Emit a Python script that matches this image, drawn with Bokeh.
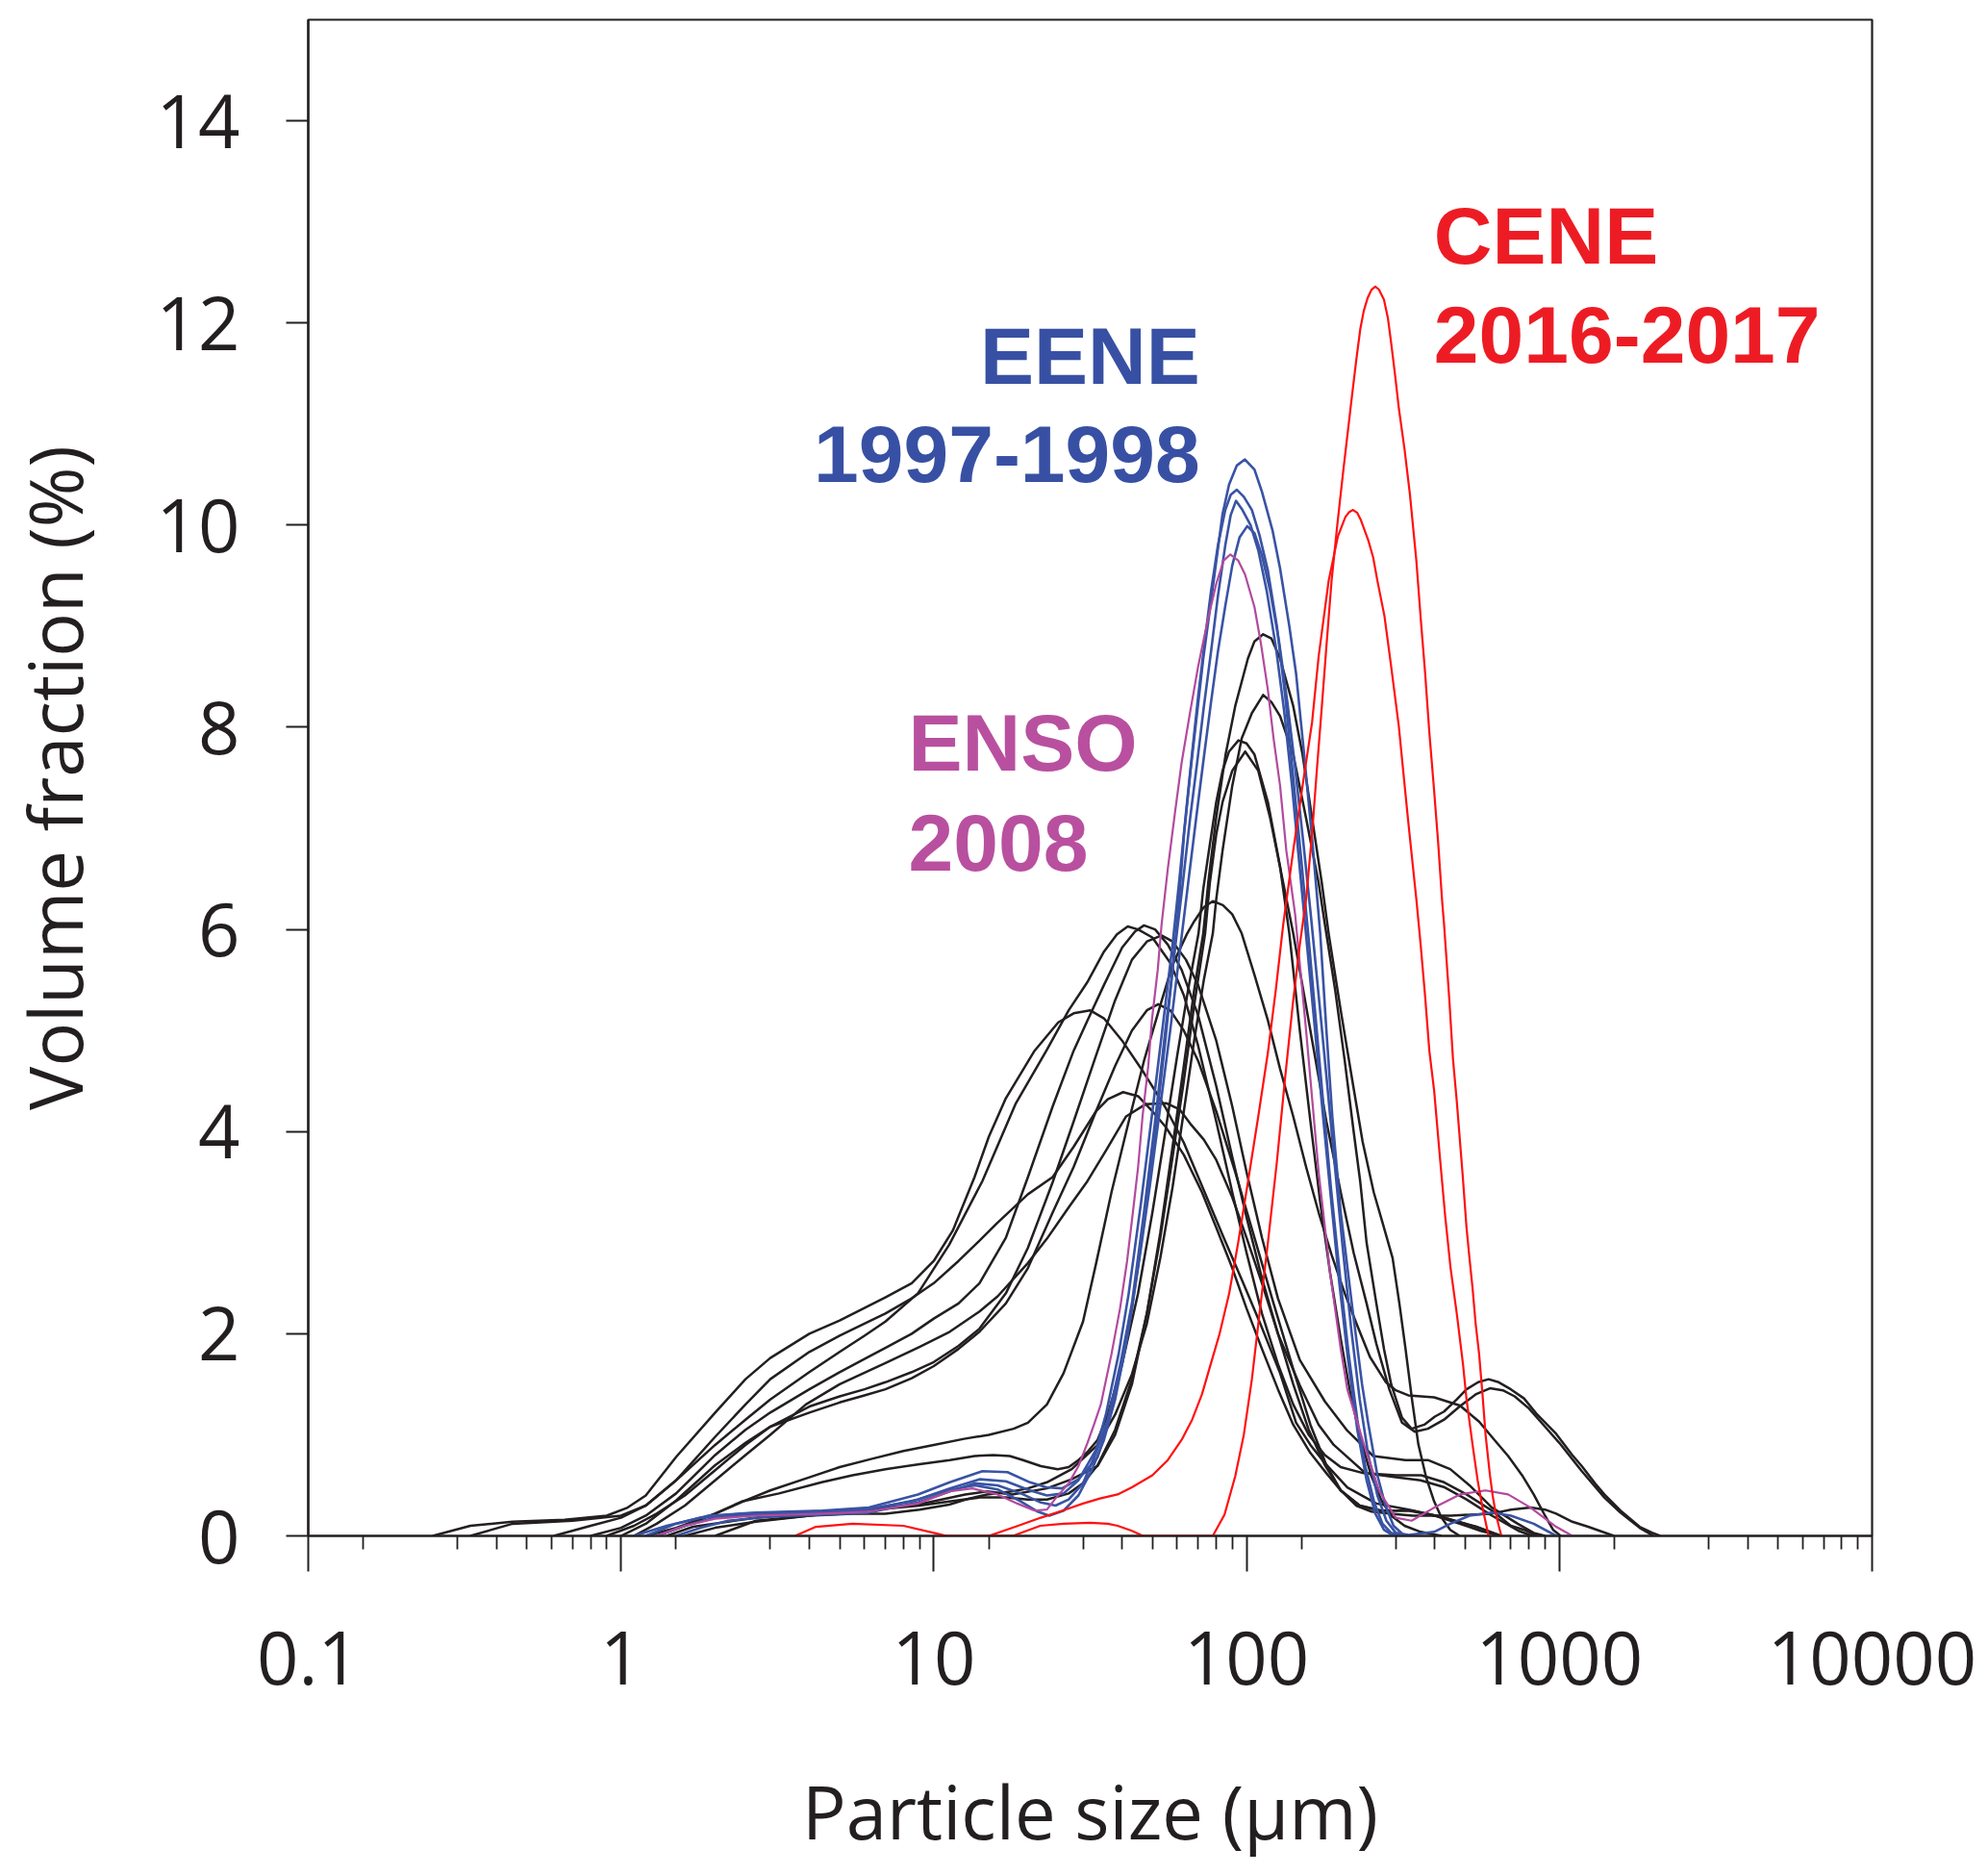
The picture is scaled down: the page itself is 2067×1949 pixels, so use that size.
from bokeh.plotting import figure
from bokeh.models import FixedTicker, CustomJSTickFormatter, Range1d, Label
from bokeh.embed import file_html
from bokeh.resources import INLINE

# ---------------- axes / ticks ----------------
x_major_ticks = [0.1, 1, 10, 100, 1000, 10000]
x_minor_ticks = [0.15, 0.3, 0.4, 0.5, 0.6, 0.7, 0.8, 0.9,
                 1.5, 3, 4, 5, 6, 7, 8, 9,
                 15, 30, 40, 50, 60, 70, 80, 90,
                 150, 300, 400, 500, 600, 700, 800, 900,
                 1500, 3000, 4000, 5000, 6000, 7000, 8000, 9000]
y_major_ticks = [0, 2, 4, 6, 8, 10, 12, 14]

# ---------------- black curves (size in um, volume fraction in %) ----------------
k01_size = [1.6, 2.0, 2.7, 4.0, 5.5, 7.0, 9.0, 11.2, 14, 17, 20, 23, 27, 30, 33.4, 38, 43, 48, 53, 58, 63, 68, 72.7, 75.4, 79.9, 85.7, 92, 101, 106, 113, 120, 128, 141, 151, 162, 174, 183, 200, 218, 235, 255, 275, 293, 308, 322, 338, 354, 375, 398, 420, 448, 480]
k01_vol = [0, 0.08, 0.14, 0.20, 0.25, 0.27, 0.30, 0.34, 0.38, 0.38, 0.36, 0.36, 0.42, 0.52, 0.70, 1.05, 1.55, 2.20, 3.00, 3.85, 4.65, 5.40, 5.96, 6.46, 7.10, 7.73, 8.21, 8.68, 8.85, 8.92, 8.88, 8.68, 8.21, 7.73, 7.10, 6.46, 5.96, 5.20, 4.50, 3.90, 3.40, 3.05, 2.75, 2.30, 1.86, 1.35, 0.91, 0.58, 0.34, 0.18, 0.06, 0]

k02_size = [2.0, 2.7, 4.0, 5.5, 7.0, 9.0, 11.2, 13, 14.8, 17.8, 20, 23, 27.6, 33.4, 38, 43, 48, 53, 58, 63, 68, 73, 78, 80, 83.8, 90, 96.5, 104, 113, 120, 128, 141, 155, 170, 178, 192, 206, 220, 231, 242, 260, 275, 290, 314, 337, 370, 400, 428, 470, 505, 550, 594, 640, 700, 771, 850, 977, 1100, 1180, 1300, 1393, 1568, 1806, 1985, 2100]
k02_vol = [0, 0.15, 0.20, 0.22, 0.22, 0.26, 0.31, 0.37, 0.41, 0.44, 0.47, 0.53, 0.66, 0.90, 1.20, 1.60, 2.10, 2.75, 3.45, 4.20, 4.90, 5.50, 5.96, 6.30, 6.78, 7.42, 7.89, 8.14, 8.32, 8.25, 8.11, 7.73, 7.10, 6.46, 6.05, 5.40, 4.70, 4.00, 3.50, 2.90, 2.30, 1.85, 1.50, 1.17, 1.06, 1.10, 1.18, 1.23, 1.35, 1.45, 1.52, 1.55, 1.52, 1.45, 1.36, 1.20, 1.01, 0.80, 0.69, 0.52, 0.41, 0.25, 0.09, 0.03, 0]

k03_size = [1.2, 1.5, 2.0, 2.43, 3.2, 4.38, 5.5, 7.0, 9.0, 11.25, 13.5, 15.5, 17.5, 19.3, 22, 24.9, 27, 29, 31, 33.4, 36, 40, 45, 50, 55, 60, 65, 70.2, 72.7, 76.3, 80, 83.8, 87.9, 94.2, 100, 106, 117, 128, 137, 148, 160, 172, 185, 200, 215, 232, 250, 270, 290, 320, 360, 420]
k03_vol = [0, 0.08, 0.22, 0.34, 0.42, 0.53, 0.60, 0.66, 0.71, 0.75, 0.79, 0.80, 0.79, 0.75, 0.69, 0.66, 0.68, 0.75, 0.83, 0.95, 1.20, 1.70, 2.40, 3.20, 4.00, 4.75, 5.40, 5.96, 6.40, 6.84, 7.26, 7.57, 7.76, 7.87, 7.84, 7.73, 7.26, 6.62, 5.96, 5.00, 4.10, 3.30, 2.60, 1.95, 1.40, 0.95, 0.60, 0.35, 0.20, 0.10, 0.04, 0]

k04_size = [1.4, 1.7, 2.7, 5.5, 8.9, 12.6, 14.8, 17.8, 23, 27.6, 33.4, 38, 43, 48, 53, 58, 63, 68, 73.7, 76.3, 80, 83.8, 90, 99, 109, 119, 131, 141, 160, 180, 200, 220, 242, 260, 286, 314, 345, 380, 428, 480, 540, 600, 660, 720, 800, 900, 1000, 1180, 1393, 1568, 1806, 2000]
k04_vol = [0, 0.09, 0.18, 0.25, 0.31, 0.41, 0.44, 0.41, 0.47, 0.56, 0.69, 1.00, 1.50, 2.20, 2.95, 3.75, 4.50, 5.25, 5.96, 6.46, 6.94, 7.26, 7.57, 7.76, 7.57, 7.10, 6.46, 5.96, 5.00, 4.10, 3.40, 2.80, 2.30, 1.90, 1.45, 1.12, 1.03, 1.06, 1.15, 1.28, 1.40, 1.46, 1.44, 1.38, 1.26, 1.08, 0.92, 0.64, 0.38, 0.23, 0.08, 0]

k05_size = [1.3, 1.6, 2.0, 2.5, 3.0, 4.0, 5.0, 6.3, 8.0, 10, 12.5, 15, 18, 20, 23, 26, 30, 33, 37, 42, 47, 53, 58, 64.6, 68, 73, 78, 84, 90, 96.5, 106, 117, 128, 141, 155, 170, 187, 206, 226, 248, 279, 300, 329, 398, 481, 554, 620, 686, 760, 828, 900, 955, 1010]
k05_vol = [0, 0.10, 0.22, 0.35, 0.45, 0.58, 0.68, 0.76, 0.84, 0.90, 0.96, 1.00, 1.06, 1.12, 1.30, 1.61, 2.12, 2.69, 3.40, 4.10, 4.70, 5.25, 5.65, 5.96, 6.08, 6.22, 6.28, 6.24, 6.15, 5.96, 5.55, 5.10, 4.62, 4.15, 3.65, 3.20, 2.78, 2.40, 2.08, 1.77, 1.52, 1.44, 1.39, 1.37, 1.29, 1.13, 0.95, 0.79, 0.60, 0.41, 0.20, 0.06, 0]

k06_size = [0.61, 0.8, 1.0, 1.2, 1.5, 2.0, 2.5, 3.0, 4.0, 5.0, 6.0, 7.0, 8.9, 11.2, 14.3, 18.3, 23, 27, 31, 35, 38.5, 41.7, 45, 50, 57, 63, 70, 80, 90, 100, 112, 126, 141, 158, 178, 200, 237, 300, 362, 428, 505, 609, 700, 771, 850]
k06_vol = [0, 0.10, 0.18, 0.30, 0.55, 0.90, 1.15, 1.35, 1.62, 1.82, 1.98, 2.12, 2.40, 2.88, 3.51, 4.28, 4.81, 5.20, 5.48, 5.78, 5.95, 6.03, 6.00, 5.92, 5.67, 5.35, 4.85, 4.10, 3.40, 2.80, 2.20, 1.70, 1.30, 1.00, 0.80, 0.68, 0.62, 0.60, 0.60, 0.53, 0.41, 0.25, 0.10, 0.06, 0]

k07_size = [0.8, 1.0, 1.2, 1.5, 2.0, 2.5, 3.0, 4.0, 5.0, 6.0, 7.0, 8.5, 10, 12, 14, 17, 20, 24, 28, 31, 35, 40, 44, 47, 51, 56, 62, 70, 80, 90, 100, 112, 126, 148, 170, 190, 240, 300, 360, 430, 505, 609, 740, 820]
k07_vol = [0, 0.08, 0.20, 0.42, 0.80, 1.05, 1.22, 1.45, 1.62, 1.75, 1.86, 2.00, 2.15, 2.30, 2.50, 2.95, 3.55, 4.25, 4.80, 5.10, 5.45, 5.82, 5.98, 6.04, 6.00, 5.85, 5.60, 5.15, 4.45, 3.75, 3.15, 2.55, 2.00, 1.49, 1.10, 0.90, 0.62, 0.58, 0.55, 0.48, 0.36, 0.20, 0.05, 0]

k08_size = [0.9, 1.1, 1.3, 1.6, 2.0, 2.5, 3.0, 4.0, 5.0, 6.0, 7.0, 8.5, 10, 12, 14, 17, 20, 24, 28, 33, 38, 43, 48, 53.5, 58, 64, 70, 80, 90, 100, 112, 126, 148, 178, 210, 254, 322, 380, 448, 516, 609, 736, 828, 900]
k08_vol = [0, 0.10, 0.22, 0.40, 0.65, 0.90, 1.08, 1.28, 1.38, 1.45, 1.52, 1.62, 1.72, 1.88, 2.05, 2.40, 2.85, 3.50, 4.10, 4.75, 5.30, 5.70, 5.88, 5.94, 5.88, 5.70, 5.45, 4.90, 4.25, 3.60, 2.95, 2.35, 1.74, 1.33, 1.04, 0.79, 0.75, 0.75, 0.66, 0.50, 0.28, 0.12, 0.03, 0]

k09_size = [0.25, 0.33, 0.45, 0.66, 0.9, 1.05, 1.2, 1.5, 2.0, 2.5, 3.0, 4.0, 5.0, 7.0, 8.5, 10, 11.5, 13.5, 15, 17, 21, 25, 28, 31.6, 35, 40, 47, 55, 63, 73, 84, 97, 111, 128, 144, 160, 178, 210, 260, 330, 430, 540, 650]
k09_vol = [0, 0.10, 0.14, 0.16, 0.20, 0.28, 0.40, 0.78, 1.22, 1.55, 1.76, 2.00, 2.13, 2.36, 2.50, 2.72, 3.02, 3.55, 3.95, 4.33, 4.80, 5.08, 5.17, 5.20, 5.12, 4.90, 4.58, 4.24, 3.89, 3.42, 2.97, 2.52, 2.09, 1.61, 1.12, 0.90, 0.72, 0.48, 0.32, 0.26, 0.18, 0.09, 0]

k10_size = [1.0, 1.2, 1.5, 2.0, 2.5, 3.0, 4.0, 5.0, 6.0, 7.0, 8.5, 10, 12, 14, 17, 20, 24, 28, 33, 38, 43, 48, 52.2, 57, 63, 70, 80, 92, 106, 122, 141, 160, 180, 200, 230, 270, 330, 400, 480, 560, 650]
k10_vol = [0, 0.12, 0.35, 0.70, 0.92, 1.08, 1.22, 1.32, 1.39, 1.45, 1.56, 1.68, 1.85, 2.02, 2.30, 2.65, 3.20, 3.65, 4.20, 4.65, 5.00, 5.20, 5.26, 5.20, 5.00, 4.70, 4.20, 3.60, 2.95, 2.30, 1.65, 1.10, 0.70, 0.45, 0.30, 0.25, 0.25, 0.20, 0.12, 0.05, 0]

k11_size = [0.33, 0.45, 0.7, 1.0, 1.2, 1.5, 2.0, 2.5, 3.0, 4.0, 5.0, 6.0, 7.0, 8.5, 10, 12, 14, 16, 20, 24, 28, 33, 36, 40.3, 45, 50, 55, 63, 72, 80, 90, 100, 112, 126, 141, 160, 180, 200, 230, 266, 337, 428, 543, 650]
k11_vol = [0, 0.12, 0.15, 0.20, 0.30, 0.55, 0.98, 1.30, 1.55, 1.82, 1.98, 2.10, 2.20, 2.35, 2.50, 2.72, 2.92, 3.10, 3.38, 3.55, 3.85, 4.20, 4.32, 4.39, 4.35, 4.20, 4.05, 3.77, 3.40, 3.05, 2.65, 2.25, 1.85, 1.45, 1.10, 0.82, 0.62, 0.45, 0.30, 0.25, 0.25, 0.18, 0.09, 0]

k12_size = [1.1, 1.3, 1.6, 2.0, 2.5, 3.0, 3.9, 5.0, 7.0, 9.0, 11.25, 14, 16, 20, 23, 27, 31, 35.8, 41.2, 47.5, 55.5, 61, 66, 73, 80, 90, 100, 112, 126, 141, 158, 178, 200, 224, 251, 290, 340, 400, 450, 520, 609, 700, 809, 900, 977, 1100, 1236, 1494]
k12_vol = [0, 0.12, 0.30, 0.55, 0.80, 1.00, 1.30, 1.50, 1.71, 1.87, 2.02, 2.22, 2.37, 2.70, 2.94, 3.25, 3.51, 3.83, 4.15, 4.27, 4.28, 4.22, 4.08, 3.92, 3.72, 3.35, 2.95, 2.50, 2.00, 1.50, 1.05, 0.70, 0.45, 0.30, 0.24, 0.22, 0.20, 0.20, 0.20, 0.21, 0.22, 0.26, 0.28, 0.26, 0.22, 0.14, 0.09, 0]

# ---------------- EENE 1997-1998 (blue) ----------------
b01_size = [1.2, 1.5, 1.9, 2.7, 4.4, 6.2, 8.9, 11.25, 14.3, 17.2, 20.3, 22.9, 25.7, 29, 33.4, 36, 40, 43, 47, 51, 55, 58, 60.9, 63.1, 66.2, 69.3, 72.7, 76.3, 80, 83.8, 87.9, 93.1, 98.8, 106, 112, 121, 128, 137, 144, 152, 162, 172, 180, 188, 200, 218, 234, 245, 262, 278, 295, 320]
b01_vol = [0, 0.12, 0.20, 0.23, 0.25, 0.28, 0.41, 0.53, 0.64, 0.63, 0.53, 0.48, 0.47, 0.56, 0.78, 1.11, 1.70, 2.25, 3.10, 4.00, 4.90, 5.60, 6.31, 6.94, 7.57, 8.11, 8.68, 9.16, 9.64, 10.11, 10.40, 10.59, 10.65, 10.55, 10.33, 9.95, 9.57, 9.00, 8.53, 7.80, 6.90, 5.96, 5.00, 4.15, 3.20, 2.25, 1.50, 1.11, 0.60, 0.30, 0.10, 0]

b02_size = [1.3, 1.6, 2.0, 2.7, 4.4, 6.2, 8.9, 11.25, 14, 17, 20.3, 23, 26, 29, 33, 35.5, 39, 42, 46, 50, 54, 58, 61, 64, 67, 70, 73.5, 77, 81, 85.5, 89, 93.1, 98, 104, 110, 117, 125, 133, 141, 150, 158, 166, 175, 186, 200, 212, 226, 240, 256, 272, 290, 310]
b02_vol = [0, 0.10, 0.18, 0.21, 0.23, 0.26, 0.36, 0.47, 0.56, 0.54, 0.45, 0.40, 0.42, 0.55, 0.85, 1.20, 1.80, 2.40, 3.30, 4.20, 5.05, 5.85, 6.50, 7.15, 7.75, 8.30, 8.85, 9.35, 9.80, 10.15, 10.30, 10.35, 10.28, 10.15, 9.90, 9.55, 9.00, 8.30, 7.50, 6.65, 5.90, 5.15, 4.35, 3.45, 2.50, 1.80, 1.15, 0.68, 0.33, 0.12, 0.03, 0]

b03_size = [1.5, 1.8, 2.2, 3.0, 4.4, 6.2, 8.9, 11.25, 13.5, 16, 19, 22, 24.5, 27, 30, 33, 36, 39.5, 43, 47, 51, 55, 59, 62.5, 66, 69.5, 73, 77, 81, 85.5, 89, 92.5, 97, 103, 109, 116, 124, 132, 140, 148, 156, 165, 175, 186, 198, 211, 226, 242, 258, 275, 295]
b03_vol = [0, 0.08, 0.15, 0.19, 0.21, 0.23, 0.33, 0.44, 0.52, 0.50, 0.42, 0.33, 0.30, 0.36, 0.52, 0.82, 1.15, 1.70, 2.30, 3.20, 4.10, 5.00, 5.80, 6.45, 7.10, 7.65, 8.20, 8.75, 9.30, 9.80, 10.10, 10.24, 10.15, 10.00, 9.75, 9.35, 8.80, 8.15, 7.40, 6.60, 5.85, 5.05, 4.20, 3.35, 2.50, 1.75, 1.05, 0.55, 0.22, 0.06, 0]

b04_size = [1.1, 1.4, 1.8, 2.5, 4.0, 6.0, 8.5, 11, 13.5, 16, 19, 21.5, 23.4, 26, 29, 32, 35, 38, 41.5, 45, 49, 53, 57, 61, 65, 69, 73, 77, 81, 85.5, 90, 95, 100.5, 106, 112, 119, 127, 135, 143, 152, 161, 170, 180, 191, 203, 216, 230, 245, 262, 280, 300, 330, 398, 448, 516, 609, 700, 828, 977]
b04_vol = [0, 0.10, 0.18, 0.22, 0.24, 0.26, 0.34, 0.45, 0.50, 0.46, 0.34, 0.24, 0.20, 0.25, 0.40, 0.65, 0.95, 1.35, 1.95, 2.65, 3.45, 4.25, 5.00, 5.75, 6.45, 7.10, 7.70, 8.25, 8.75, 9.20, 9.60, 9.88, 9.99, 9.92, 9.70, 9.35, 8.85, 8.25, 7.60, 6.85, 6.10, 5.35, 4.55, 3.70, 2.85, 2.05, 1.35, 0.80, 0.40, 0.15, 0.03, 0.01, 0.04, 0.12, 0.20, 0.23, 0.20, 0.12, 0]

# ---------------- ENSO 2008 (magenta) ----------------
m01_size = [1.3, 1.6, 2.0, 2.7, 4.4, 6.2, 8.9, 11.25, 13.3, 16, 18.5, 21, 23, 24.5, 27, 29, 31, 32.6, 34.2, 37, 39.4, 41.5, 43.3, 45, 46.5, 48.5, 49.8, 52, 53.5, 56, 59, 62, 66, 70, 75, 80, 84.5, 88.8, 94, 98.9, 106, 111, 117, 122, 128, 134, 143, 155, 170, 185, 200, 210, 237, 266, 300, 337, 398, 481, 581, 686, 809, 977, 1100]
m01_vol = [0, 0.10, 0.17, 0.20, 0.22, 0.24, 0.32, 0.44, 0.47, 0.41, 0.32, 0.25, 0.26, 0.37, 0.52, 0.69, 0.92, 1.11, 1.30, 1.80, 2.25, 2.72, 3.20, 3.65, 4.15, 4.65, 5.10, 5.60, 6.05, 6.60, 7.15, 7.65, 8.15, 8.60, 9.05, 9.42, 9.65, 9.71, 9.65, 9.51, 9.19, 8.84, 8.37, 7.89, 7.42, 6.78, 6.15, 5.00, 3.60, 2.60, 1.85, 1.45, 0.91, 0.44, 0.18, 0.15, 0.28, 0.41, 0.45, 0.41, 0.28, 0.09, 0]

# ---------------- CENE 2016-2017 (red) ----------------
r01_size = [3.6, 4.2, 5.5, 8.0, 10, 11, 17.9, 21.9, 26, 31.6, 36, 38.7, 43, 46.6, 78, 85, 92, 98, 104, 110, 117, 125, 133, 141, 148, 155, 162, 168, 174, 180, 187, 195, 204, 216, 224, 231, 237, 244, 251, 258, 265, 275, 283, 290, 298, 307, 320, 333, 349, 361, 372, 384, 396, 410, 422, 428, 445, 457, 470, 490, 505, 516, 528, 540, 554, 568, 581, 600, 612, 624, 640, 653]
r01_vol = [0, 0.09, 0.12, 0.10, 0.03, 0, 0, 0.10, 0.12, 0.13, 0.12, 0.10, 0.05, 0, 0, 0.21, 0.59, 1.00, 1.55, 2.20, 2.90, 3.70, 4.55, 5.30, 5.85, 6.30, 6.95, 7.60, 8.20, 8.80, 9.45, 10.00, 10.55, 11.21, 11.62, 11.94, 12.12, 12.25, 12.33, 12.36, 12.33, 12.23, 12.05, 11.80, 11.50, 11.15, 10.75, 10.30, 9.65, 9.05, 8.55, 7.95, 7.45, 6.85, 6.28, 6.05, 5.30, 4.72, 4.30, 3.60, 3.05, 2.75, 2.45, 2.10, 1.80, 1.40, 1.00, 0.60, 0.40, 0.25, 0.10, 0]

r02_size = [15, 18.6, 22, 25.8, 30, 34, 38.7, 43, 50, 56, 62, 67, 72, 76, 82, 88, 94, 101, 109, 117, 124, 131, 141, 151, 162, 170, 183, 196, 207, 213, 219, 226, 232, 245, 254, 262, 276, 290, 307, 317, 328, 338, 349, 360, 372, 384, 398, 415, 432, 449, 470, 492, 505, 528, 548, 568, 594]
r02_vol = [0, 0.10, 0.18, 0.25, 0.32, 0.37, 0.41, 0.48, 0.60, 0.75, 0.95, 1.15, 1.40, 1.65, 2.00, 2.40, 2.90, 3.50, 4.15, 4.78, 5.40, 6.05, 6.78, 7.42, 8.05, 8.70, 9.45, 9.89, 10.08, 10.13, 10.15, 10.12, 10.05, 9.85, 9.68, 9.45, 9.10, 8.60, 8.00, 7.56, 7.10, 6.71, 6.30, 5.86, 5.35, 4.80, 4.40, 3.75, 3.15, 2.65, 2.20, 1.70, 1.35, 0.90, 0.55, 0.28, 0]

BLACK = "#231f20"
BLUE = "#3953a4"
MAGENTA = "#b24a9e"
RED = "#ff1010"

black_curves = [(k01_size, k01_vol), (k02_size, k02_vol), (k03_size, k03_vol), (k04_size, k04_vol),
                (k05_size, k05_vol), (k06_size, k06_vol), (k07_size, k07_vol), (k08_size, k08_vol),
                (k09_size, k09_vol), (k10_size, k10_vol), (k11_size, k11_vol), (k12_size, k12_vol)]
blue_curves = [(b01_size, b01_vol), (b02_size, b02_vol), (b03_size, b03_vol), (b04_size, b04_vol)]
magenta_curves = [(m01_size, m01_vol)]
red_curves = [(r01_size, r01_vol), (r02_size, r02_vol)]

p = figure(width=2059, height=1943, x_axis_type="log",
           x_range=Range1d(0.1, 10000), y_range=Range1d(0, 15),
           output_backend="svg", toolbar_location=None,
           min_border_left=320, min_border_right=113, min_border_top=20, min_border_bottom=347,
           x_axis_label="Particle size (µm)", y_axis_label="Volume fraction (%)")

p.xgrid.visible = False
p.ygrid.visible = False
p.background_fill_color = "white"
p.border_fill_color = "white"
p.outline_line_color = BLACK
p.outline_line_width = 2.2

for ax in (p.xaxis[0], p.yaxis[0]):
    ax.axis_line_color = BLACK
    ax.axis_line_width = 2.2
    ax.major_tick_line_color = BLACK
    ax.major_tick_line_width = 2
    ax.major_tick_in = 0
    ax.major_label_text_font = "Open Sans"
    ax.major_label_text_font_size = "76px"
    ax.major_label_text_color = BLACK
    ax.axis_label_text_font = "Open Sans"
    ax.axis_label_text_font_size = "76px"
    ax.axis_label_text_font_style = "normal"
    ax.axis_label_text_color = BLACK

xa = p.xaxis[0]
xa.ticker = FixedTicker(ticks=x_major_ticks, minor_ticks=x_minor_ticks)
xa.formatter = CustomJSTickFormatter(code="return tick < 1 ? tick.toFixed(1) : tick.toFixed(0);")
xa.major_tick_out = 37
xa.minor_tick_out = 14
xa.minor_tick_in = 0
xa.minor_tick_line_color = BLACK
xa.minor_tick_line_width = 1.8
xa.major_label_standoff = 61
xa.axis_label_standoff = 77

ya = p.yaxis[0]
ya.ticker = FixedTicker(ticks=y_major_ticks)
ya.minor_tick_line_color = None
ya.major_tick_out = 23
ya.major_label_standoff = 48
ya.axis_label_standoff = 52

for xs, ys in black_curves:
    p.line(xs, ys, line_color=BLACK, line_width=2.5, line_join="round")
for xs, ys in blue_curves:
    p.line(xs, ys, line_color=BLUE, line_width=2.6, line_join="round")
for xs, ys in magenta_curves:
    p.line(xs, ys, line_color=MAGENTA, line_width=2.2, line_join="round")
for xs, ys in red_curves:
    p.line(xs, ys, line_color=RED, line_width=2.2, line_join="round")

def add_label(x, y, text, color, align):
    p.add_layout(Label(x=x, y=y, text=text, text_color=color, text_align=align,
                       text_baseline="alphabetic", text_font="Liberation Sans",
                       text_font_size="84px", text_font_style="bold"))

add_label(71.0, 11.67, "EENE", "#3850a3", "right")
add_label(71.0, 10.70, "1997-1998", "#3850a3", "right")
add_label(8.3, 7.85, "ENSO", "#b8509f", "left")
add_label(8.3, 6.86, "2008", "#b8509f", "left")
add_label(397, 12.86, "CENE", "#ed1c24", "left")
add_label(397, 11.88, "2016-2017", "#ed1c24", "left")

open("out.html", "w", encoding="utf-8").write(file_html(p, INLINE))
